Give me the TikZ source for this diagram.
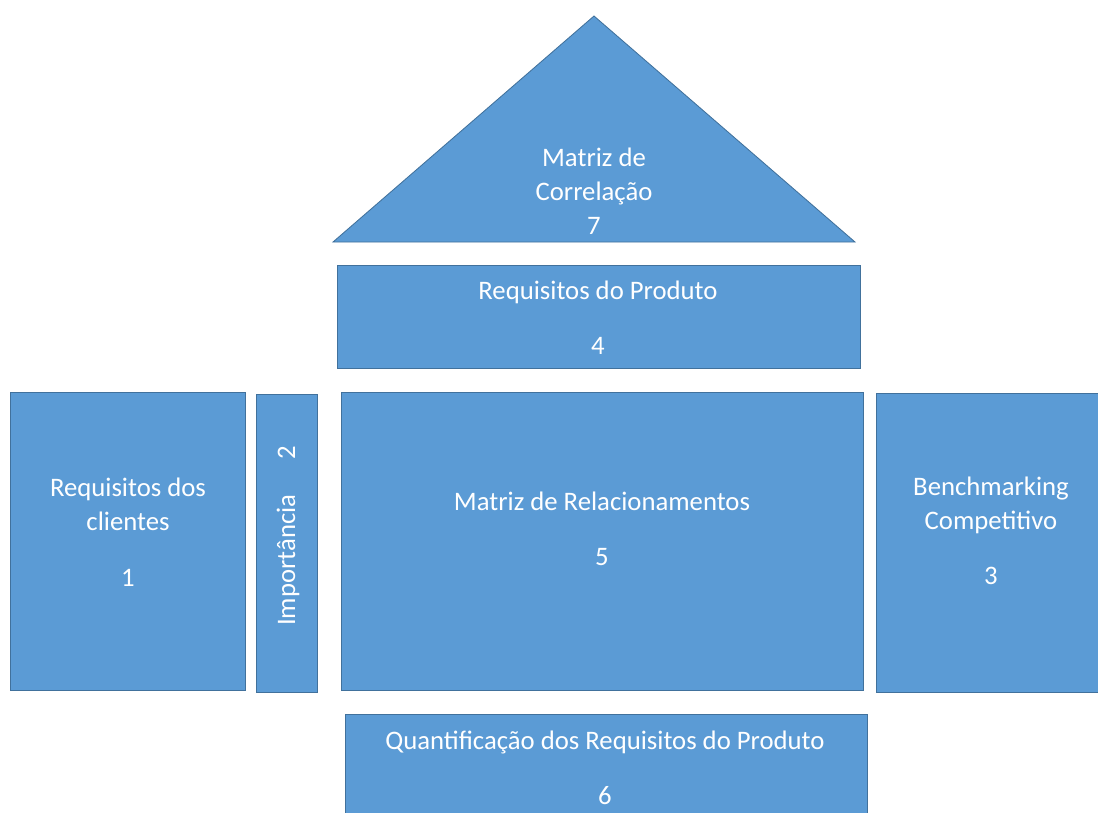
\documentclass[tikz,border=0pt]{standalone}
\usepackage{fontspec}
\setmainfont{Carlito}
\definecolor{boxfill}{HTML}{5B9BD5}
\definecolor{boxline}{HTML}{41719C}

\begin{document}
\begin{tikzpicture}[x=0.025cm, y=-0.025cm,
main box/.style={rectangle, draw=boxline, fill=boxfill, line width=0.6pt, inner sep=0pt, anchor=north west},
main text/.style={text=white, align=center, inner sep=0pt, font=\fontsize{19}{24.2}\selectfont}]
\useasboundingbox (0,0) rectangle (1098,812);

% roof
\coordinate (t0) at (594,16);
\coordinate (t1) at (333,242);
\coordinate (t2) at (855,242);
\draw[draw=boxline, fill=boxfill, line width=0.6pt] (t0) -- (t1) -- (t2) -- cycle;
\node[main text] (tt) at (594,191) {Matriz de\\Correlação\\7};

% product requirements
\node[main box, minimum width=13.075cm, minimum height=2.575cm] (n4) at (337,265) {};
\node[main text] (t4) at (598,318) {Requisitos do Produto\\[15pt]4};

% left side
\node[main box, minimum width=5.875cm, minimum height=7.45cm] (n1) at (10,392) {};
\node[main text] (t1) at (128,532) {Requisitos dos\\clientes\\[16pt]1};

\node[main box, minimum width=1.525cm, minimum height=7.45cm] (n2) at (256,394) {};
\node[main text, rotate=90] (t2) at (288,536) {Importância\hspace{1.3em}2};

% middle
\node[main box, minimum width=13.05cm, minimum height=7.45cm] (n5) at (341,392) {};
\node[main text] (t5) at (602,529) {Matriz de Relacionamentos\\[15pt]5};

% right side
\node[main box, minimum width=6.5cm, minimum height=7.475cm] (n3) at (876,393) {};
\node[main text] (t3) at (991,531) {Benchmarking\\Competitivo\\[15pt]3};

% bottom
\node[main box, minimum width=13.05cm, minimum height=2.9cm] (n6) at (345,714) {};
\node[main text] (t6) at (605,768) {Quantificação dos Requisitos do Produto\\[15pt]6};

\end{tikzpicture}
\end{document}
